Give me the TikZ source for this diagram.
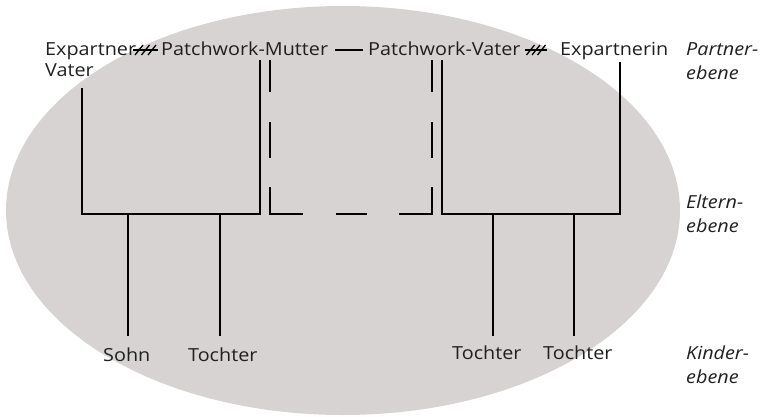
\documentclass[tikz,border=0pt]{standalone}
\usepackage{fontspec}
\setmainfont[FakeStretch=1.1]{Open Sans}
\begin{document}
\begin{tikzpicture}[x=1pt,y=-1pt,
  label/.style={anchor=base west,inner sep=0pt,text=black!88,font=\fontsize{18}{21}\selectfont},
  level/.style={label,font=\fontsize{18}{21}\selectfont\itshape},
  famline/.style={line width=2.4pt,black},
  stepline/.style={famline,dash pattern=on 32pt off 30pt on 36pt off 29pt on 60pt off 33pt on 31pt off 32pt on 60pt off 29pt on 36pt off 30pt on 40pt},
  divorce/.style={line width=1.3pt,black}]
\useasboundingbox (0,0) rectangle (762,417);
% background oval
\fill[fill={rgb,255:red,216;green,211;blue,211}] (343,210.5) ellipse [x radius=337, y radius=204.5];

% partner level
\node[label] (exv) at (45,56) {Expartner};
\node[label] (exv2) at (45,77) {Vater};
\node[label] (pm) at (161,56) {Patchwork-Mutter};
\node[label] (pv) at (368,56) {Patchwork-Vater};
\node[label] (exm) at (560,56) {Expartnerin};

% children
\node[label] (sohn) at (103,361) {Sohn};
\node[label] (t1) at (188,361) {Tochter};
\node[label] (t2) at (452,359) {Tochter};
\node[label] (t3) at (543,359) {Tochter};

% level captions
\node[level] (lp1) at (686,56) {Partner-};
\node[level] (lp2) at (686,80) {ebene};
\node[level] (le1) at (686,208) {Eltern-};
\node[level] (le2) at (686,232) {ebene};
\node[level] (lk1) at (686,359) {Kinder-};
\node[level] (lk2) at (686,383) {ebene};

% partner links
\coordinate (dA1) at (133,50); \coordinate (dA2) at (158,50);
\coordinate (dB1) at (525,50); \coordinate (dB2) at (547,50);
\draw[divorce] (dA1) -- (dA2);
\foreach \x in {139,145.5,152} \draw[divorce] (\x-4,55) -- (\x+4,45);
\draw[divorce] (dB1) -- (dB2);
\foreach \x in {530.5,536,541.5} \draw[divorce] (\x-4,55) -- (\x+4,45);
\coordinate (pl1) at (335,50); \coordinate (pl2) at (363,50);
\draw[famline] (pl1) -- (pl2);

% parent connectors
\coordinate (v1) at (82,88);
\coordinate (m1) at (260,60);
\coordinate (m2) at (270,60);
\coordinate (p1) at (432,60);
\coordinate (p2) at (442,60);
\coordinate (e1) at (620,62);
\coordinate (barL) at (170,214);
\coordinate (barR) at (530,214);
\draw[famline] (v1) |- (barL) -| (m1);
\draw[famline] (p2) |- (barR) -| (e1);
\draw[stepline] (m2) |- (barL -| p1) -- (p1);

% child connectors
\coordinate (cs) at (128,336);
\coordinate (ct1) at (220,336);
\coordinate (ct2) at (493,336);
\coordinate (ct3) at (574,336);
\draw[famline] (cs) -- (cs |- barL);
\draw[famline] (ct1) -- (ct1 |- barL);
\draw[famline] (ct2) -- (ct2 |- barR);
\draw[famline] (ct3) -- (ct3 |- barR);
\end{tikzpicture}
\end{document}
